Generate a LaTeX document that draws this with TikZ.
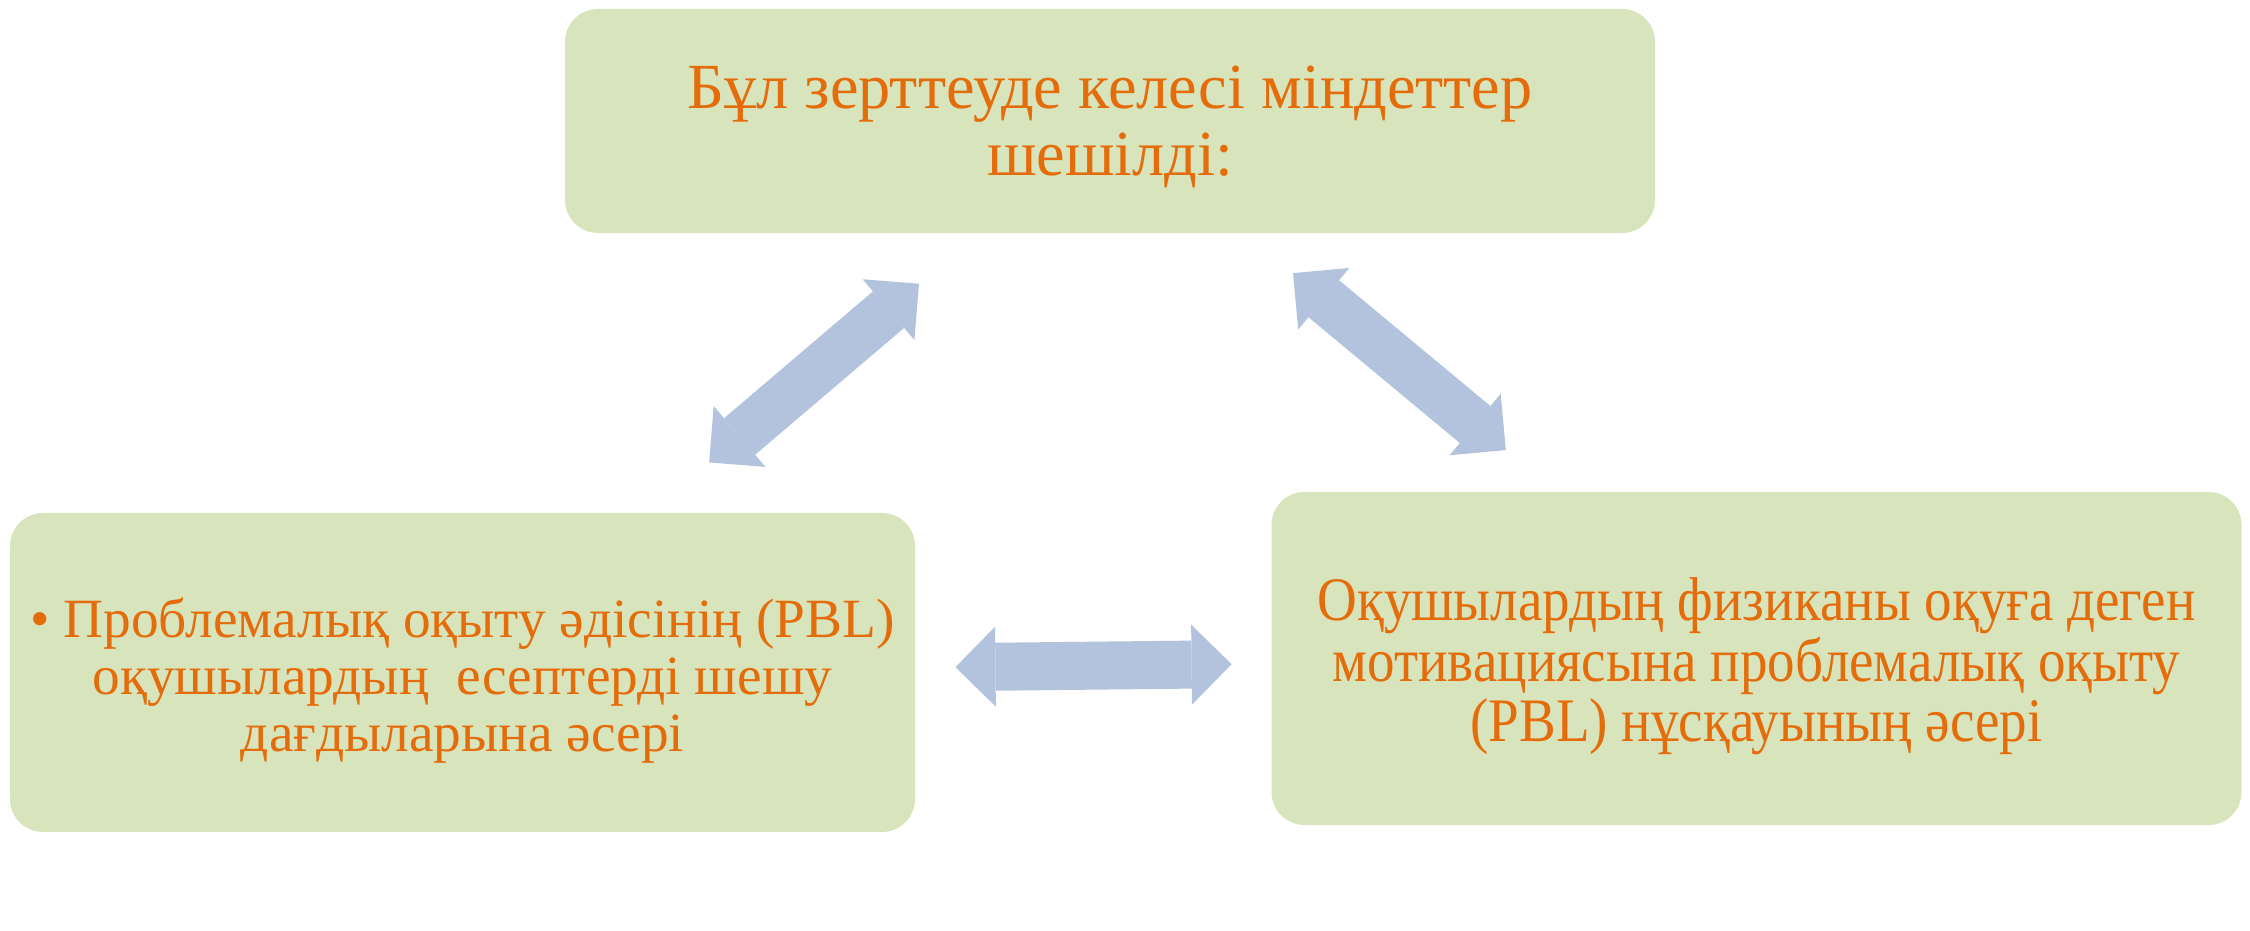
\documentclass[tikz,border=0pt]{standalone}
\usepackage{fontspec}
\setmainfont{Liberation Serif}
\newfontfamily\narrowserif{Liberation Serif}[FakeStretch=0.89]
\usetikzlibrary{arrows.meta}

\definecolor{boxgreen}{HTML}{D8E4BC}
\definecolor{txtorange}{HTML}{E46C0A}
\definecolor{arrowblue}{HTML}{B3C3DE}

\begin{document}
\begin{tikzpicture}[
  box/.style={rectangle, rounded corners=0.33cm, fill=boxgreen, inner sep=0pt},
  boxtext/.style={text=txtorange, align=center, inner sep=0pt},
  twoway/.style={arrowblue, line width=0.48cm,
    {Triangle[length=0.4cm,width=0.8cm,line width=0pt]}-{Triangle[length=0.4cm,width=0.8cm,line width=0pt]}}
]
\useasboundingbox (0,0) rectangle (22.5,9.3);

% three task boxes
\node (task) [box, minimum width=10.9cm, minimum height=2.24cm] at (11.1,8.09) {};
\node (skill) [box, minimum width=9.05cm, minimum height=3.19cm] at (4.625,2.575) {};
\node (motiv) [box, minimum width=9.70cm, minimum height=3.33cm] at (17.565,2.715) {};

% their texts
\node (tasktext) [boxtext, yshift=-0.06cm, font=\fontsize{18.3}{18.98}\selectfont] at (task)
  {Бұл зерттеуде келесі міндеттер\\шешілді:};
\node (skilltext) [boxtext, yshift=-0.08cm, font=\fontsize{15.75}{16.2}\selectfont] at (skill)
  {• Проблемалық оқыту әдісінің (PBL)\\оқушылардың~ есептерді шешу\\дағдыларына әсері};
\node (motivtext) [boxtext, yshift=-0.075cm, font=\narrowserif\fontsize{17.6}{15.1}\selectfont] at (motiv)
  {Оқушылардың физиканы оқуға деген\\мотивациясына проблемалық оқыту\\(PBL) нұсқауының әсері};

% double arrows between boxes
\draw [twoway, shorten <=2.51cm, shorten >=3.24cm] (task.center) -- (skill.center);
\draw [twoway, shorten <=2.38cm, shorten >=3.26cm] (task.center) -- (motiv.center);
\draw [twoway, shorten <=4.93cm, shorten >=5.25cm] (skill.center) -- (motiv.center);

\end{tikzpicture}
\end{document}
